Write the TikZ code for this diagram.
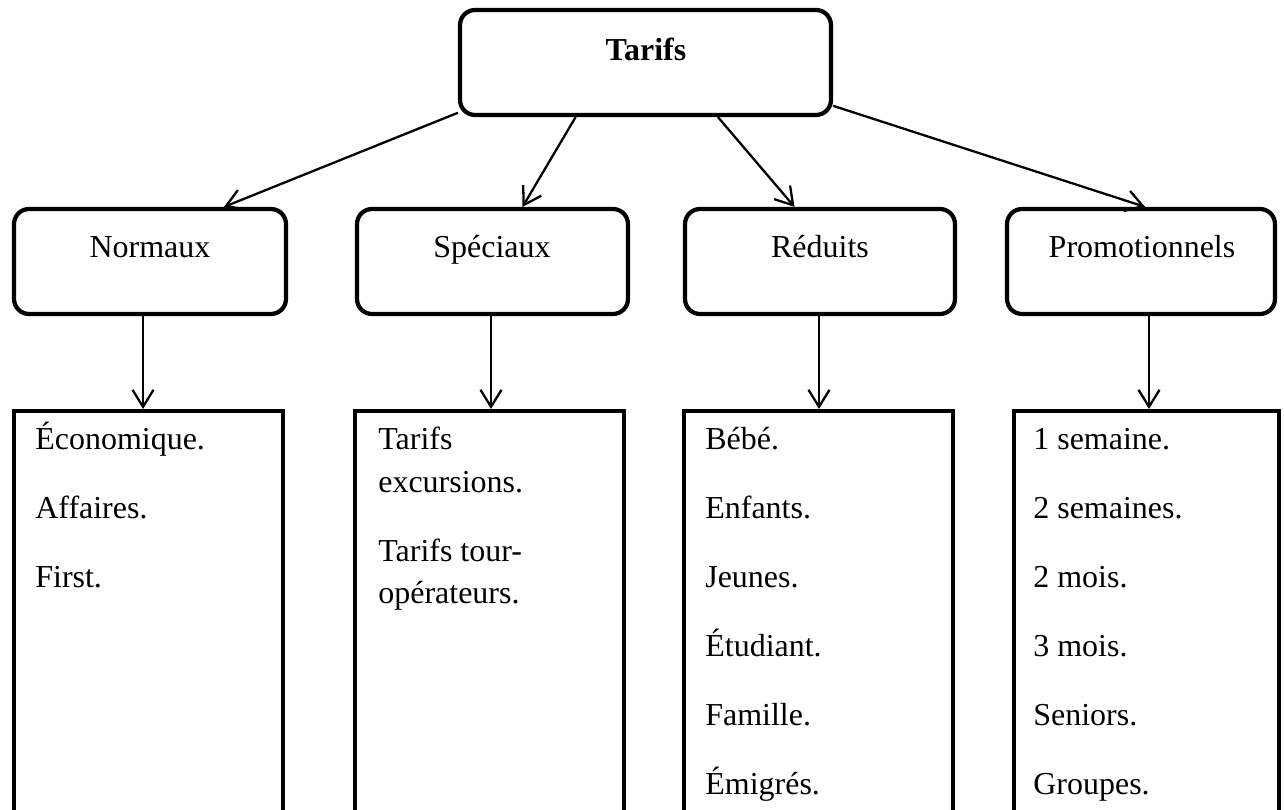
\documentclass[tikz,border=0pt]{standalone}
\usepackage{fontspec}
\setmainfont{Liberation Serif}
\usetikzlibrary{arrows.meta,calc}
\begin{document}
\begin{tikzpicture}[x=0.02cm,y=-0.02cm,
  txt/.style={font=\fontsize{18.2pt}{23.9pt}\selectfont, inner sep=0pt},
  roundbox/.style={draw, line width=2.4pt, rounded corners=0.3cm, minimum height=2.1cm, inner sep=0pt},
  listbox/.style={draw, line width=2.4pt, anchor=north, minimum height=8.04cm, inner sep=0pt},
  connector/.style={line width=1.3pt, -{Straight Barb[length=3.4mm,width=4.2mm]}},
  listitem/.style={txt, anchor=base west}]
\useasboundingbox (0,0) rectangle (1284,810);

% root
\node[roundbox, minimum width=7.42cm] (top) at (645.5,62.5) {};
\node[txt, anchor=base, font=\fontsize{18.2pt}{23.9pt}\selectfont\bfseries] (toplabel) at (646,61) {Tarifs};

% categories
\node[roundbox, minimum width=5.44cm] (nm) at (150,261.5) {};
\node[roundbox, minimum width=5.42cm] (sp) at (492.5,261.5) {};
\node[roundbox, minimum width=5.40cm] (rd) at (820,261.5) {};
\node[roundbox, minimum width=5.36cm] (pr) at (1141,261.5) {};
\node[txt, anchor=base] (nmlabel) at (150,258) {Normaux};
\node[txt, anchor=base] (splabel) at (492,258) {Spéciaux};
\node[txt, anchor=base] (rdlabel) at (820,258) {Réduits};
\node[txt, anchor=base] (prlabel) at (1142,258) {Promotionnels};

% lists
\node[listbox, minimum width=5.38cm] (nl) at (148.5,409) {};
\node[listbox, minimum width=5.38cm] (sl) at (489.5,409) {};
\node[listbox, minimum width=5.38cm] (rl) at (818.5,409) {};
\node[listbox, minimum width=5.30cm] (pl) at (1146.5,409) {};

\foreach \t [count=\i] in {Économique., Affaires., First.}
  \node[listitem] (nl-\i) at (35,{450+68.8*(\i-1)}) {\t};
\foreach \t/\y [count=\i] in {Tarifs/450, excursions./492, Tarifs tour-/561, opérateurs./603}
  \node[listitem] (sl-\i) at (378,\y) {\t};
\foreach \t [count=\i] in {Bébé., Enfants., Jeunes., Étudiant., Famille., Émigrés.}
  \node[listitem] (rl-\i) at (705,{450+68.8*(\i-1)}) {\t};
\foreach \t [count=\i] in {1 semaine., 2 semaines., 2 mois., 3 mois., Seniors., Groupes.}
  \node[listitem] (pl-\i) at (1033,{450+68.8*(\i-1)}) {\t};

% root to categories
\draw[connector] (top.-165.9) -- ($(nm.north west)!0.768!(nm.north east)$);
\draw[connector] (top.-142.6) -- ($(sp.north west)!0.609!(sp.north east)$);
\draw[connector] (top.-37.8) -- ($(rd.north west)!0.407!(rd.north east)$);
\draw[connector] (top.-13.5) -- ($(pr.north west)!0.515!(pr.north east)$);

% categories to lists
\coordinate (c1) at (143,0);
\coordinate (c2) at (491,0);
\coordinate (c3) at (819,0);
\coordinate (c4) at (1149,0);
\draw[connector] (nm.south -| c1) -- (nl.north -| c1);
\draw[connector] (sp.south -| c2) -- (sl.north -| c2);
\draw[connector] (rd.south -| c3) -- (rl.north -| c3);
\draw[connector] (pr.south -| c4) -- (pl.north -| c4);
\end{tikzpicture}
\end{document}
